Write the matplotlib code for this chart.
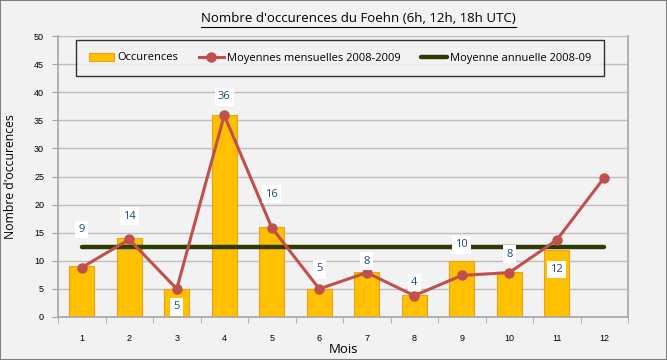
import matplotlib
matplotlib.use("Agg")
import matplotlib.pyplot as plt
from matplotlib.patches import Rectangle

months = [1, 2, 3, 4, 5, 6, 7, 8, 9, 10, 11, 12]
occurences = [9, 14, 5, 36, 16, 5, 8, 4, 10, 8, 12, 0]
moy_mensuelles = [8.8, 13.8, 5, 35.9, 15.9, 5, 7.9, 3.8, 7.4, 7.9, 13.7, 24.8]
moy_annuelle = [12.5] * 12
bar_labels = ["9", "14", "5", "36", "16", "5", "8", "4", "10", "8", "12", ""]
# label offsets in pixels relative to bar top
label_offsets = [37, 22, -18, 18, 33, 20, 11, 12, 16, 18, -20, 0]

title = "Nombre d'occurences du Foehn (6h, 12h, 18h UTC)"
xlabel = "Mois"
ylabel = "Nombre d'occurences"

bg = "#F2F2F2"
fig = plt.figure(figsize=(6.67, 3.6), dpi=100, facecolor=bg)
ax = fig.add_axes([58 / 667, 1 - 317 / 360, 570 / 667, 281 / 360])
ax.set_facecolor(bg)

x = list(range(len(months)))
bars = ax.bar(x, occurences, width=0.53, color="#FFC000", edgecolor="#E8A317",
              linewidth=0.8, zorder=2, label="Occurences")
l1, = ax.plot(x, moy_mensuelles, color="#C0504D", linewidth=2.2, marker="o",
              markersize=6.5, zorder=4, label="Moyennes mensuelles 2008-2009")
l2, = ax.plot(x, moy_annuelle, color="#2E3A06", linewidth=3.2, zorder=3,
              solid_capstyle="round", label="Moyenne annuelle 2008-09")

for xi, v, lab, off in zip(x, occurences, bar_labels, label_offsets):
    if not lab:
        continue
    ax.annotate(lab, (xi, v), xytext=(0, off), textcoords="offset pixels",
                ha="center", va="center", fontsize=8, color="#1F497D",
                family="Open Sans", zorder=6,
                bbox=dict(boxstyle="square,pad=0.3", fc="white", ec="none"))

ax.set_xlim(-0.5, 11.5)
ax.set_ylim(0, 50)
ax.set_yticks(range(0, 51, 5))
ax.set_xticks(x)
ax.set_xticklabels([str(m) for m in months], fontsize=6.5, family="Liberation Sans")
ax.set_xticks([i + 0.5 for i in range(-1, 12)], minor=True)
ax.tick_params(axis="x", which="major", length=0, pad=12)
ax.tick_params(axis="x", which="minor", length=4, color="#A6A6A6", direction="out")
ax.tick_params(axis="y", length=4, color="#A6A6A6", labelsize=6.5, pad=6)
for t in ax.get_yticklabels():
    t.set_family("Liberation Sans")

ax.yaxis.grid(True, color="#BEBEBE", linewidth=1, zorder=0)
ax.set_axisbelow(True)
ax.spines["top"].set_visible(False)
for s in ["left", "bottom", "right"]:
    ax.spines[s].set_color("#A6A6A6")
    ax.spines[s].set_linewidth(1.2)

ax.set_xlabel(xlabel, fontsize=9.5, family="Open Sans", labelpad=0)
ax.set_ylabel(ylabel, fontsize=8.8, family="Open Sans", labelpad=12)

fig.text(358 / 667, 1 - 18 / 360, title, ha="center", va="center",
         fontsize=9.5, family="Open Sans")
fig.add_artist(plt.Line2D([201 / 667, 516 / 667], [1 - 27 / 360, 1 - 27 / 360],
                          color="black", linewidth=0.8))

leg = ax.legend(handles=[bars, l1, l2], loc="center",
                bbox_to_anchor=(77 / 667, 1 - 77 / 360, 526 / 667, 38 / 360),
                bbox_transform=fig.transFigure, ncol=3, frameon=True, fancybox=False,
                prop={"family": "Open Sans", "size": 8}, handlelength=2.3,
                columnspacing=1.8, handletextpad=0.3, borderaxespad=0,
                borderpad=1.15)
leg.get_frame().set_edgecolor("black")
leg.get_frame().set_facecolor(bg)
leg.get_frame().set_linewidth(1)
leg.set_zorder(10)

fig.add_artist(Rectangle((0, 0), 1, 1, transform=fig.transFigure, fill=False,
                         edgecolor="#808080", linewidth=1.5))

fig.savefig("out.png", dpi=100, facecolor=bg)
